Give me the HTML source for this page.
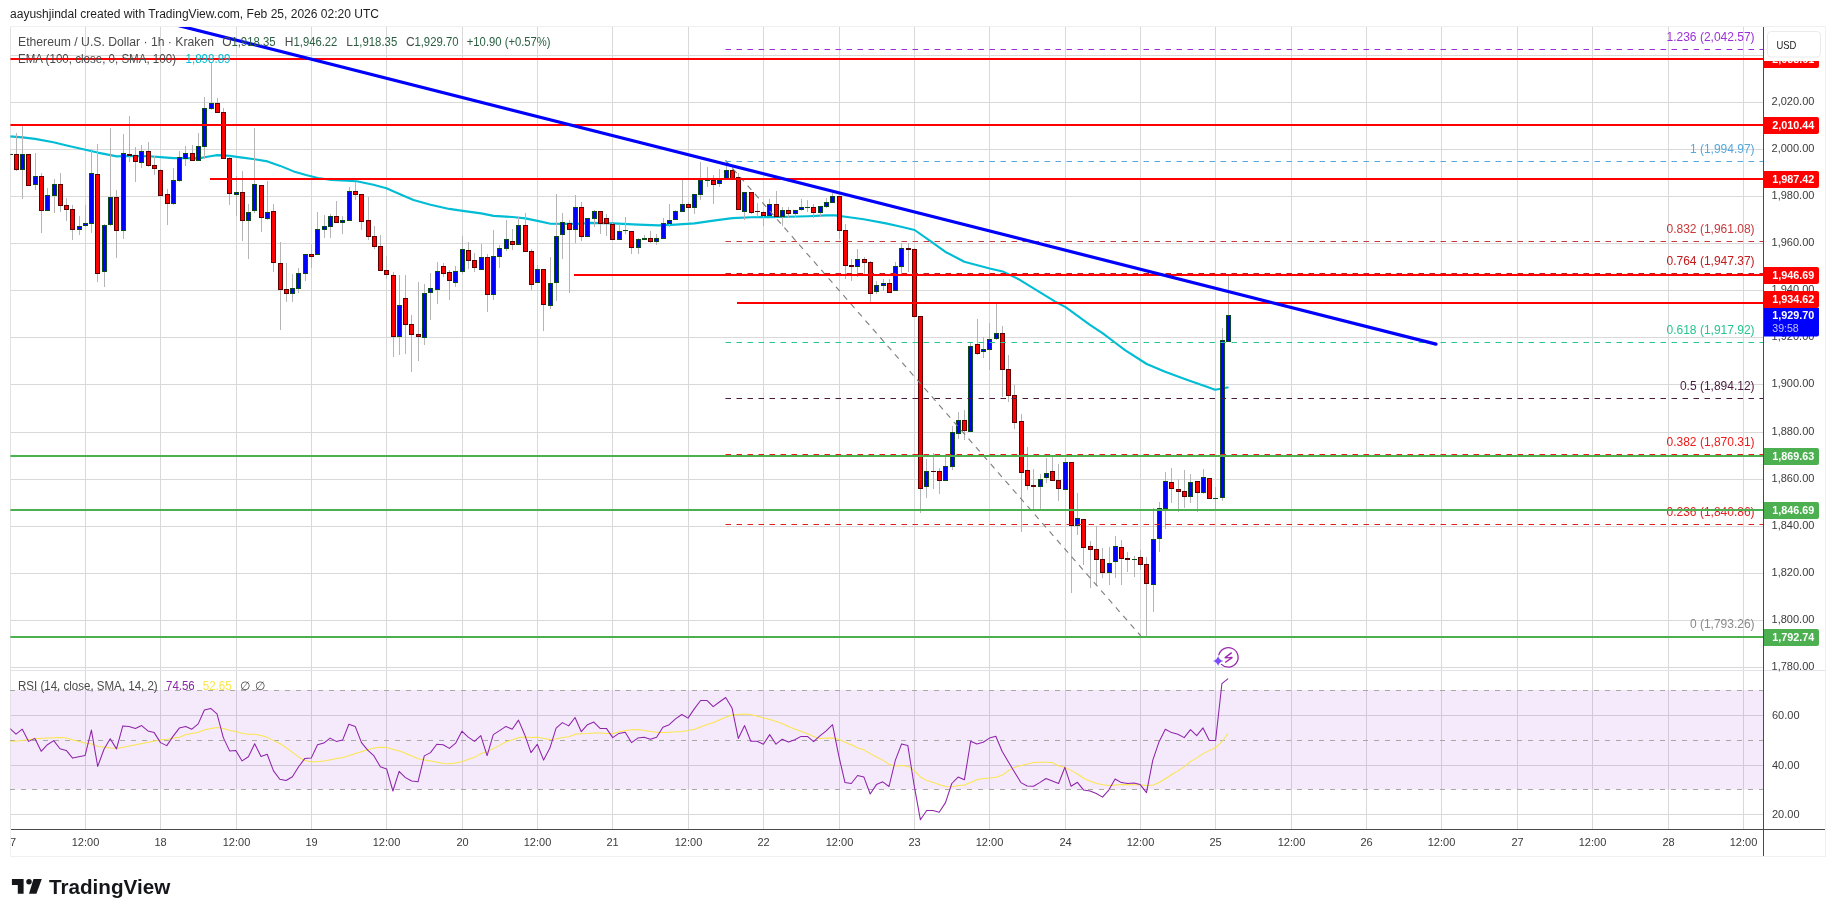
<!DOCTYPE html>
<html><head><meta charset="utf-8"><title>ETHUSD chart</title>
<style>html,body{margin:0;padding:0;background:#fff}svg{display:block;will-change:transform}</style></head>
<body>
<svg width="1835" height="917" viewBox="0 0 1835 917" shape-rendering="auto">
<rect width="1835" height="917" fill="#fff"/>
<rect x="10.5" y="26.5" width="1815" height="830" fill="#fff" stroke="#f0f0f0" stroke-width="1"/>
<defs><clipPath id="main"><rect x="10.4" y="27" width="1753.1" height="643"/></clipPath><clipPath id="rsi"><rect x="10.4" y="671" width="1753.1" height="158"/></clipPath></defs>
<path d="M10.5 27V829" stroke="#e2e2e2" stroke-width="1" shape-rendering="crispEdges"/>
<path d="M85.5 27V829.5M160.5 27V829.5M236.5 27V829.5M311.5 27V829.5M386.5 27V829.5M462.5 27V829.5M537.5 27V829.5M612.5 27V829.5M688.5 27V829.5M763.5 27V829.5M839.5 27V829.5M914.5 27V829.5M989.5 27V829.5M1065.5 27V829.5M1140.5 27V829.5M1215.5 27V829.5M1291.5 27V829.5M1366.5 27V829.5M1441.5 27V829.5M1517.5 27V829.5M1592.5 27V829.5M1668.5 27V829.5M1743.5 27V829.5M11 55.5H1763.5M11 102.5H1763.5M11 149.5H1763.5M11 196.5H1763.5M11 243.5H1763.5M11 290.5H1763.5M11 337.5H1763.5M11 384.5H1763.5M11 432.5H1763.5M11 479.5H1763.5M11 526.5H1763.5M11 573.5H1763.5M11 620.5H1763.5M11 667.5H1763.5M11 715.5H1763.5M11 765.5H1763.5M11 814.5H1763.5" stroke="#d9d9d9" stroke-width="1" fill="none" shape-rendering="crispEdges"/>
<path d="M11 670.5H1825" stroke="#e0e3eb" stroke-width="1" shape-rendering="crispEdges"/>
<rect x="11" y="690" width="1752.5" height="99.5" fill="#a43ce6" fill-opacity="0.115"/>
<path d="M10 690.5H1763.5" stroke="#a9a9a4" stroke-width="1" stroke-dasharray="5 6"/>
<path d="M10 740.5H1763.5" stroke="#a9a9a4" stroke-width="1" stroke-dasharray="5 6"/>
<path d="M10 789.5H1763.5" stroke="#a9a9a4" stroke-width="1" stroke-dasharray="5 6"/>
<g clip-path="url(#main)">
<polyline points="10.0,136.4 22.5,137.4 35.0,138.9 53.4,142.2 66.7,145.4 85.4,149.7 97.6,152.6 116.8,156.4 129.5,155.9 148.5,156.2 160.5,157.1 173.5,158.1 185.6,158.1 198.6,158.4 210.2,156.2 217.4,155.1 229.8,155.9 242.4,157.6 254.6,159.3 267.5,161.4 280.3,165.9 293.7,171.4 306.0,175.1 318.0,178.0 331.7,180.0 356.7,181.3 373.4,184.7 386.4,188.3 400.1,194.2 413.5,200.0 430.5,204.7 449.3,208.9 462.7,210.9 481.2,213.4 493.6,215.9 512.4,217.0 525.4,218.4 537.6,220.9 550.5,223.7 562.5,223.9 581.3,223.7 590.0,222.9 612.9,223.4 638.4,224.6 658.4,225.4 675.4,224.6 694.5,223.4 713.5,220.6 732.5,218.1 751.4,217.2 769.6,217.1 788.6,216.7 807.6,216.2 826.5,215.4 835.3,215.4 845.5,216.7 863.7,219.2 886.0,223.4 900.0,226.5 914.6,230.0 930.1,240.8 945.1,251.7 964.3,261.7 989.7,268.4 1002.7,271.4 1018.5,279.2 1033.6,288.4 1055.2,301.7 1065.6,307.1 1090.3,325.1 1102.5,333.1 1113.6,341.5 1125.0,350.1 1146.7,364.0 1165.1,371.8 1186.8,379.8 1206.8,386.8 1215.1,389.8 1222.5,388.5 1228.5,387.2" fill="none" stroke="#00bcd4" stroke-width="2.1" stroke-linejoin="round"/>
<path d="M10.5 154V155M16.5 133V171M22.5 126V199M28.5 154V186M35.5 153V190M41.5 173V233M47.5 188V211M54.5 179V213M60.5 173V212M66.5 198V221M72.5 205V240M79.5 216V235M85.5 205V227M91.5 149V233M97.5 144V282M104.5 224V287M110.5 128V226M116.5 190V258M123.5 134V239M129.5 116V162M135.5 147V182M141.5 145V168M148.5 142V167M154.5 156V175M160.5 169V196M167.5 189V225M173.5 168V205M179.5 151V182M185.5 146V166M192.5 145V161M198.5 133V161M204.5 97V159M211.5 62V110M217.5 98V113M223.5 108V159M229.5 156V205M236.5 176V216M242.5 171V241M248.5 204V259M254.5 128V213M261.5 185V232M267.5 181V220M273.5 204V272M280.5 242V330M286.5 263V302M292.5 274V302M298.5 268V293M305.5 254V281M311.5 244V268M317.5 212V255M324.5 215V238M330.5 214V238M336.5 201V223M342.5 216V234M349.5 187V221M355.5 182V200M361.5 194V230M368.5 197V240M374.5 226V249M380.5 235V271M386.5 256V279M393.5 272V357M399.5 275V355M405.5 275V354M411.5 315V372M418.5 282V361M424.5 284V345M430.5 273V320M437.5 262V304M443.5 263V277M449.5 270V300M455.5 266V287M462.5 236V274M468.5 242V269M474.5 253V272M481.5 244V270M487.5 254V312M493.5 230V300M499.5 245V268M506.5 220V251M512.5 229V250M518.5 217V245M525.5 213V252M531.5 249V290M537.5 265V283M543.5 269V331M550.5 257V309M556.5 194V301M562.5 213V259M569.5 220V293M575.5 195V243M581.5 202V241M587.5 218V237M594.5 210V227M600.5 211V234M606.5 214V236M612.5 223V240M619.5 224V240M625.5 217V234M631.5 231V254M638.5 238V254M644.5 235V240M650.5 231V243M656.5 234V245M663.5 218V239M669.5 204V227M675.5 210V220M682.5 180V212M688.5 202V221M694.5 194V214M700.5 162V200M707.5 167V187M713.5 175V204M719.5 169V187M726.5 161V179M732.5 167V179M738.5 173V210M744.5 192V220M751.5 192V214M757.5 203V217M763.5 211V226M769.5 199V216M776.5 191V217M782.5 207V226M788.5 207V218M795.5 210V217M801.5 199V211M807.5 200V212M813.5 204V218M820.5 206V217M826.5 198V208M832.5 193V203M839.5 196V239M845.5 224V279M851.5 259V281M857.5 249V277M864.5 257V274M870.5 261V302M876.5 281V294M883.5 279V291M889.5 279V293M895.5 262V291M901.5 243V273M908.5 243V272M914.5 248V317M920.5 316V513M926.5 459V498M933.5 453V489M939.5 468V494M945.5 457V481M952.5 426V470M958.5 412V439M964.5 410V440M970.5 342V432M977.5 319V355M983.5 337V358M989.5 323V370M996.5 304V340M1002.5 326V397M1008.5 355V402M1014.5 385V429M1021.5 414V532M1027.5 447V490M1033.5 469V509M1040.5 474V509M1046.5 458V483M1052.5 457V481M1058.5 464V501M1065.5 458V490M1071.5 462V593M1077.5 493V535M1083.5 519V565M1090.5 541V588M1096.5 526V586M1102.5 548V578M1109.5 547V585M1115.5 536V578M1121.5 540V585M1127.5 552V572M1134.5 556V577M1140.5 550V570M1146.5 557V637M1153.5 508V612M1159.5 502V552M1165.5 472V529M1171.5 468V503M1178.5 479V512M1184.5 470V508M1190.5 474V503M1197.5 481V512M1203.5 469V494M1209.5 478V499M1215.5 487V510M1222.5 328V501M1228.5 276V342" stroke="#b5b5b5" stroke-width="1" fill="none" shape-rendering="crispEdges"/>
<g shape-rendering="crispEdges"><rect x="8" y="154" width="5" height="1" fill="#0a4d1a"/><rect x="14.5" y="154.5" width="4" height="15" fill="#ff0000" stroke="#5a0000" stroke-width="1"/><rect x="20.5" y="154.5" width="4" height="15" fill="#0000ff" stroke="#0a4d1a" stroke-width="1"/><rect x="26.5" y="154.5" width="4" height="31" fill="#ff0000" stroke="#5a0000" stroke-width="1"/><rect x="33.5" y="176.5" width="4" height="8" fill="#0000ff" stroke="#0a4d1a" stroke-width="1"/><rect x="39.5" y="176.5" width="4" height="34" fill="#ff0000" stroke="#5a0000" stroke-width="1"/><rect x="45.5" y="195.5" width="4" height="15" fill="#0000ff" stroke="#0a4d1a" stroke-width="1"/><rect x="52.5" y="184.5" width="4" height="11" fill="#0000ff" stroke="#0a4d1a" stroke-width="1"/><rect x="58.5" y="184.5" width="4" height="21" fill="#ff0000" stroke="#5a0000" stroke-width="1"/><rect x="64.5" y="205.5" width="4" height="4" fill="#ff0000" stroke="#5a0000" stroke-width="1"/><rect x="70.5" y="209.5" width="4" height="20" fill="#ff0000" stroke="#5a0000" stroke-width="1"/><rect x="77.5" y="226.5" width="4" height="3" fill="#0000ff" stroke="#0a4d1a" stroke-width="1"/><rect x="83.5" y="223.5" width="4" height="2" fill="#0000ff" stroke="#0a4d1a" stroke-width="1"/><rect x="89.5" y="173.5" width="4" height="50" fill="#0000ff" stroke="#0a4d1a" stroke-width="1"/><rect x="95.5" y="174.5" width="4" height="99" fill="#ff0000" stroke="#5a0000" stroke-width="1"/><rect x="102.5" y="225.5" width="4" height="46" fill="#0000ff" stroke="#0a4d1a" stroke-width="1"/><rect x="108.5" y="197.5" width="4" height="27" fill="#0000ff" stroke="#0a4d1a" stroke-width="1"/><rect x="114.5" y="197.5" width="4" height="33" fill="#ff0000" stroke="#5a0000" stroke-width="1"/><rect x="121.5" y="153.5" width="4" height="77" fill="#0000ff" stroke="#0a4d1a" stroke-width="1"/><rect x="127" y="154" width="5" height="2" fill="#5a0000"/><rect x="133.5" y="155.5" width="4" height="6" fill="#ff0000" stroke="#5a0000" stroke-width="1"/><rect x="139.5" y="151.5" width="4" height="11" fill="#0000ff" stroke="#0a4d1a" stroke-width="1"/><rect x="146.5" y="151.5" width="4" height="14" fill="#ff0000" stroke="#5a0000" stroke-width="1"/><rect x="152.5" y="165.5" width="4" height="3" fill="#ff0000" stroke="#5a0000" stroke-width="1"/><rect x="158.5" y="170.5" width="4" height="25" fill="#ff0000" stroke="#5a0000" stroke-width="1"/><rect x="165.5" y="194.5" width="4" height="9" fill="#ff0000" stroke="#5a0000" stroke-width="1"/><rect x="171.5" y="180.5" width="4" height="23" fill="#0000ff" stroke="#0a4d1a" stroke-width="1"/><rect x="177.5" y="157.5" width="4" height="23" fill="#0000ff" stroke="#0a4d1a" stroke-width="1"/><rect x="183.5" y="153.5" width="4" height="5" fill="#0000ff" stroke="#0a4d1a" stroke-width="1"/><rect x="190.5" y="153.5" width="4" height="7" fill="#ff0000" stroke="#5a0000" stroke-width="1"/><rect x="196.5" y="146.5" width="4" height="14" fill="#0000ff" stroke="#0a4d1a" stroke-width="1"/><rect x="202.5" y="108.5" width="4" height="38" fill="#0000ff" stroke="#0a4d1a" stroke-width="1"/><rect x="209.5" y="103.5" width="4" height="5" fill="#0000ff" stroke="#0a4d1a" stroke-width="1"/><rect x="215.5" y="103.5" width="4" height="9" fill="#ff0000" stroke="#5a0000" stroke-width="1"/><rect x="221.5" y="112.5" width="4" height="46" fill="#ff0000" stroke="#5a0000" stroke-width="1"/><rect x="227.5" y="158.5" width="4" height="35" fill="#ff0000" stroke="#5a0000" stroke-width="1"/><rect x="234.5" y="192.5" width="4" height="2" fill="#0000ff" stroke="#0a4d1a" stroke-width="1"/><rect x="240.5" y="192.5" width="4" height="28" fill="#ff0000" stroke="#5a0000" stroke-width="1"/><rect x="246.5" y="212.5" width="4" height="8" fill="#0000ff" stroke="#0a4d1a" stroke-width="1"/><rect x="252.5" y="184.5" width="4" height="26" fill="#0000ff" stroke="#0a4d1a" stroke-width="1"/><rect x="259.5" y="185.5" width="4" height="32" fill="#ff0000" stroke="#5a0000" stroke-width="1"/><rect x="265.5" y="212.5" width="4" height="6" fill="#0000ff" stroke="#0a4d1a" stroke-width="1"/><rect x="271.5" y="211.5" width="4" height="51" fill="#ff0000" stroke="#5a0000" stroke-width="1"/><rect x="278.5" y="263.5" width="4" height="26" fill="#ff0000" stroke="#5a0000" stroke-width="1"/><rect x="284.5" y="289.5" width="4" height="4" fill="#ff0000" stroke="#5a0000" stroke-width="1"/><rect x="290.5" y="288.5" width="4" height="5" fill="#0000ff" stroke="#0a4d1a" stroke-width="1"/><rect x="296.5" y="273.5" width="4" height="15" fill="#0000ff" stroke="#0a4d1a" stroke-width="1"/><rect x="303.5" y="254.5" width="4" height="19" fill="#0000ff" stroke="#0a4d1a" stroke-width="1"/><rect x="309.5" y="254.5" width="4" height="2" fill="#ff0000" stroke="#5a0000" stroke-width="1"/><rect x="315.5" y="229.5" width="4" height="25" fill="#0000ff" stroke="#0a4d1a" stroke-width="1"/><rect x="322.5" y="226.5" width="4" height="3" fill="#0000ff" stroke="#0a4d1a" stroke-width="1"/><rect x="328.5" y="216.5" width="4" height="10" fill="#0000ff" stroke="#0a4d1a" stroke-width="1"/><rect x="334.5" y="216.5" width="4" height="6" fill="#ff0000" stroke="#5a0000" stroke-width="1"/><rect x="340.5" y="220.5" width="4" height="2" fill="#0000ff" stroke="#0a4d1a" stroke-width="1"/><rect x="347.5" y="191.5" width="4" height="29" fill="#0000ff" stroke="#0a4d1a" stroke-width="1"/><rect x="353.5" y="191.5" width="4" height="3" fill="#ff0000" stroke="#5a0000" stroke-width="1"/><rect x="359.5" y="194.5" width="4" height="27" fill="#ff0000" stroke="#5a0000" stroke-width="1"/><rect x="366.5" y="220.5" width="4" height="16" fill="#ff0000" stroke="#5a0000" stroke-width="1"/><rect x="372.5" y="236.5" width="4" height="10" fill="#ff0000" stroke="#5a0000" stroke-width="1"/><rect x="378.5" y="246.5" width="4" height="24" fill="#ff0000" stroke="#5a0000" stroke-width="1"/><rect x="384.5" y="270.5" width="4" height="4" fill="#ff0000" stroke="#5a0000" stroke-width="1"/><rect x="391.5" y="275.5" width="4" height="61" fill="#ff0000" stroke="#5a0000" stroke-width="1"/><rect x="397.5" y="305.5" width="4" height="31" fill="#0000ff" stroke="#0a4d1a" stroke-width="1"/><rect x="403.5" y="298.5" width="4" height="26" fill="#ff0000" stroke="#5a0000" stroke-width="1"/><rect x="409.5" y="324.5" width="4" height="10" fill="#ff0000" stroke="#5a0000" stroke-width="1"/><rect x="416.5" y="334.5" width="4" height="2" fill="#ff0000" stroke="#5a0000" stroke-width="1"/><rect x="422.5" y="293.5" width="4" height="44" fill="#0000ff" stroke="#0a4d1a" stroke-width="1"/><rect x="428.5" y="288.5" width="4" height="4" fill="#0000ff" stroke="#0a4d1a" stroke-width="1"/><rect x="435.5" y="271.5" width="4" height="18" fill="#0000ff" stroke="#0a4d1a" stroke-width="1"/><rect x="441.5" y="266.5" width="4" height="7" fill="#ff0000" stroke="#5a0000" stroke-width="1"/><rect x="447.5" y="272.5" width="4" height="8" fill="#ff0000" stroke="#5a0000" stroke-width="1"/><rect x="453.5" y="271.5" width="4" height="11" fill="#0000ff" stroke="#0a4d1a" stroke-width="1"/><rect x="460.5" y="249.5" width="4" height="22" fill="#0000ff" stroke="#0a4d1a" stroke-width="1"/><rect x="466.5" y="250.5" width="4" height="10" fill="#ff0000" stroke="#5a0000" stroke-width="1"/><rect x="472.5" y="260.5" width="4" height="7" fill="#ff0000" stroke="#5a0000" stroke-width="1"/><rect x="479.5" y="257.5" width="4" height="12" fill="#0000ff" stroke="#0a4d1a" stroke-width="1"/><rect x="485.5" y="257.5" width="4" height="37" fill="#ff0000" stroke="#5a0000" stroke-width="1"/><rect x="491.5" y="256.5" width="4" height="38" fill="#0000ff" stroke="#0a4d1a" stroke-width="1"/><rect x="497.5" y="248.5" width="4" height="8" fill="#0000ff" stroke="#0a4d1a" stroke-width="1"/><rect x="504.5" y="239.5" width="4" height="9" fill="#0000ff" stroke="#0a4d1a" stroke-width="1"/><rect x="510.5" y="241.5" width="4" height="3" fill="#ff0000" stroke="#5a0000" stroke-width="1"/><rect x="516.5" y="225.5" width="4" height="19" fill="#0000ff" stroke="#0a4d1a" stroke-width="1"/><rect x="523.5" y="225.5" width="4" height="26" fill="#ff0000" stroke="#5a0000" stroke-width="1"/><rect x="529.5" y="251.5" width="4" height="33" fill="#ff0000" stroke="#5a0000" stroke-width="1"/><rect x="535.5" y="269.5" width="4" height="13" fill="#0000ff" stroke="#0a4d1a" stroke-width="1"/><rect x="541.5" y="269.5" width="4" height="35" fill="#ff0000" stroke="#5a0000" stroke-width="1"/><rect x="548.5" y="283.5" width="4" height="22" fill="#0000ff" stroke="#0a4d1a" stroke-width="1"/><rect x="554.5" y="236.5" width="4" height="46" fill="#0000ff" stroke="#0a4d1a" stroke-width="1"/><rect x="560.5" y="222.5" width="4" height="12" fill="#0000ff" stroke="#0a4d1a" stroke-width="1"/><rect x="567.5" y="223.5" width="4" height="6" fill="#ff0000" stroke="#5a0000" stroke-width="1"/><rect x="573.5" y="207.5" width="4" height="22" fill="#0000ff" stroke="#0a4d1a" stroke-width="1"/><rect x="579.5" y="207.5" width="4" height="29" fill="#ff0000" stroke="#5a0000" stroke-width="1"/><rect x="585.5" y="218.5" width="4" height="18" fill="#0000ff" stroke="#0a4d1a" stroke-width="1"/><rect x="592.5" y="211.5" width="4" height="7" fill="#0000ff" stroke="#0a4d1a" stroke-width="1"/><rect x="598.5" y="211.5" width="4" height="12" fill="#ff0000" stroke="#5a0000" stroke-width="1"/><rect x="604.5" y="218.5" width="4" height="5" fill="#ff0000" stroke="#5a0000" stroke-width="1"/><rect x="610.5" y="224.5" width="4" height="15" fill="#ff0000" stroke="#5a0000" stroke-width="1"/><rect x="617.5" y="231.5" width="4" height="8" fill="#0000ff" stroke="#0a4d1a" stroke-width="1"/><rect x="623" y="230" width="5" height="1" fill="#0a4d1a"/><rect x="629.5" y="231.5" width="4" height="16" fill="#ff0000" stroke="#5a0000" stroke-width="1"/><rect x="636.5" y="239.5" width="4" height="8" fill="#0000ff" stroke="#0a4d1a" stroke-width="1"/><rect x="642" y="238" width="5" height="2" fill="#0a4d1a"/><rect x="648.5" y="238.5" width="4" height="3" fill="#ff0000" stroke="#5a0000" stroke-width="1"/><rect x="654.5" y="238.5" width="4" height="3" fill="#0000ff" stroke="#0a4d1a" stroke-width="1"/><rect x="661.5" y="223.5" width="4" height="15" fill="#0000ff" stroke="#0a4d1a" stroke-width="1"/><rect x="667.5" y="220.5" width="4" height="3" fill="#0000ff" stroke="#0a4d1a" stroke-width="1"/><rect x="673.5" y="211.5" width="4" height="8" fill="#0000ff" stroke="#0a4d1a" stroke-width="1"/><rect x="680.5" y="204.5" width="4" height="7" fill="#0000ff" stroke="#0a4d1a" stroke-width="1"/><rect x="686.5" y="204.5" width="4" height="3" fill="#ff0000" stroke="#5a0000" stroke-width="1"/><rect x="692.5" y="194.5" width="4" height="13" fill="#0000ff" stroke="#0a4d1a" stroke-width="1"/><rect x="698.5" y="180.5" width="4" height="14" fill="#0000ff" stroke="#0a4d1a" stroke-width="1"/><rect x="705" y="180" width="5" height="1" fill="#0a4d1a"/><rect x="711.5" y="180.5" width="4" height="4" fill="#ff0000" stroke="#5a0000" stroke-width="1"/><rect x="717.5" y="180.5" width="4" height="3" fill="#0000ff" stroke="#0a4d1a" stroke-width="1"/><rect x="724.5" y="170.5" width="4" height="8" fill="#0000ff" stroke="#0a4d1a" stroke-width="1"/><rect x="730.5" y="170.5" width="4" height="8" fill="#ff0000" stroke="#5a0000" stroke-width="1"/><rect x="736.5" y="177.5" width="4" height="32" fill="#ff0000" stroke="#5a0000" stroke-width="1"/><rect x="742.5" y="192.5" width="4" height="19" fill="#0000ff" stroke="#0a4d1a" stroke-width="1"/><rect x="749.5" y="192.5" width="4" height="20" fill="#ff0000" stroke="#5a0000" stroke-width="1"/><rect x="755" y="211" width="5" height="1" fill="#5a0000"/><rect x="761.5" y="212.5" width="4" height="3" fill="#ff0000" stroke="#5a0000" stroke-width="1"/><rect x="767.5" y="204.5" width="4" height="11" fill="#0000ff" stroke="#0a4d1a" stroke-width="1"/><rect x="774.5" y="204.5" width="4" height="12" fill="#ff0000" stroke="#5a0000" stroke-width="1"/><rect x="780.5" y="210.5" width="4" height="6" fill="#0000ff" stroke="#0a4d1a" stroke-width="1"/><rect x="786.5" y="210.5" width="4" height="3" fill="#ff0000" stroke="#5a0000" stroke-width="1"/><rect x="793.5" y="210.5" width="4" height="3" fill="#0000ff" stroke="#0a4d1a" stroke-width="1"/><rect x="799.5" y="207.5" width="4" height="2" fill="#0000ff" stroke="#0a4d1a" stroke-width="1"/><rect x="805" y="207" width="5" height="1" fill="#0a4d1a"/><rect x="811.5" y="207.5" width="4" height="5" fill="#ff0000" stroke="#5a0000" stroke-width="1"/><rect x="818.5" y="206.5" width="4" height="6" fill="#0000ff" stroke="#0a4d1a" stroke-width="1"/><rect x="824.5" y="202.5" width="4" height="4" fill="#0000ff" stroke="#0a4d1a" stroke-width="1"/><rect x="830.5" y="196.5" width="4" height="6" fill="#0000ff" stroke="#0a4d1a" stroke-width="1"/><rect x="837.5" y="196.5" width="4" height="34" fill="#ff0000" stroke="#5a0000" stroke-width="1"/><rect x="843.5" y="230.5" width="4" height="35" fill="#ff0000" stroke="#5a0000" stroke-width="1"/><rect x="849" y="265" width="5" height="2" fill="#5a0000"/><rect x="855.5" y="259.5" width="4" height="7" fill="#0000ff" stroke="#0a4d1a" stroke-width="1"/><rect x="862.5" y="259.5" width="4" height="3" fill="#ff0000" stroke="#5a0000" stroke-width="1"/><rect x="868.5" y="262.5" width="4" height="31" fill="#ff0000" stroke="#5a0000" stroke-width="1"/><rect x="874.5" y="285.5" width="4" height="6" fill="#0000ff" stroke="#0a4d1a" stroke-width="1"/><rect x="881.5" y="283.5" width="4" height="2" fill="#0000ff" stroke="#0a4d1a" stroke-width="1"/><rect x="887.5" y="283.5" width="4" height="9" fill="#ff0000" stroke="#5a0000" stroke-width="1"/><rect x="893.5" y="266.5" width="4" height="24" fill="#0000ff" stroke="#0a4d1a" stroke-width="1"/><rect x="899.5" y="248.5" width="4" height="18" fill="#0000ff" stroke="#0a4d1a" stroke-width="1"/><rect x="906" y="248" width="5" height="2" fill="#5a0000"/><rect x="912.5" y="249.5" width="4" height="67" fill="#ff0000" stroke="#5a0000" stroke-width="1"/><rect x="918.5" y="316.5" width="4" height="172" fill="#ff0000" stroke="#5a0000" stroke-width="1"/><rect x="924.5" y="471.5" width="4" height="15" fill="#0000ff" stroke="#0a4d1a" stroke-width="1"/><rect x="931" y="471" width="5" height="1" fill="#5a0000"/><rect x="937.5" y="471.5" width="4" height="9" fill="#ff0000" stroke="#5a0000" stroke-width="1"/><rect x="943.5" y="466.5" width="4" height="14" fill="#0000ff" stroke="#0a4d1a" stroke-width="1"/><rect x="950.5" y="432.5" width="4" height="34" fill="#0000ff" stroke="#0a4d1a" stroke-width="1"/><rect x="956.5" y="420.5" width="4" height="13" fill="#0000ff" stroke="#0a4d1a" stroke-width="1"/><rect x="962.5" y="420.5" width="4" height="10" fill="#ff0000" stroke="#5a0000" stroke-width="1"/><rect x="968.5" y="346.5" width="4" height="85" fill="#0000ff" stroke="#0a4d1a" stroke-width="1"/><rect x="975.5" y="344.5" width="4" height="9" fill="#ff0000" stroke="#5a0000" stroke-width="1"/><rect x="981.5" y="349.5" width="4" height="2" fill="#0000ff" stroke="#0a4d1a" stroke-width="1"/><rect x="987.5" y="339.5" width="4" height="10" fill="#0000ff" stroke="#0a4d1a" stroke-width="1"/><rect x="994.5" y="333.5" width="4" height="5" fill="#0000ff" stroke="#0a4d1a" stroke-width="1"/><rect x="1000.5" y="333.5" width="4" height="36" fill="#ff0000" stroke="#5a0000" stroke-width="1"/><rect x="1006.5" y="369.5" width="4" height="26" fill="#ff0000" stroke="#5a0000" stroke-width="1"/><rect x="1012.5" y="395.5" width="4" height="27" fill="#ff0000" stroke="#5a0000" stroke-width="1"/><rect x="1019.5" y="421.5" width="4" height="51" fill="#ff0000" stroke="#5a0000" stroke-width="1"/><rect x="1025.5" y="470.5" width="4" height="15" fill="#ff0000" stroke="#5a0000" stroke-width="1"/><rect x="1031" y="485" width="5" height="2" fill="#5a0000"/><rect x="1038.5" y="479.5" width="4" height="7" fill="#0000ff" stroke="#0a4d1a" stroke-width="1"/><rect x="1044.5" y="473.5" width="4" height="4" fill="#0000ff" stroke="#0a4d1a" stroke-width="1"/><rect x="1050.5" y="471.5" width="4" height="9" fill="#ff0000" stroke="#5a0000" stroke-width="1"/><rect x="1056.5" y="480.5" width="4" height="8" fill="#ff0000" stroke="#5a0000" stroke-width="1"/><rect x="1063.5" y="462.5" width="4" height="27" fill="#0000ff" stroke="#0a4d1a" stroke-width="1"/><rect x="1069.5" y="462.5" width="4" height="63" fill="#ff0000" stroke="#5a0000" stroke-width="1"/><rect x="1075.5" y="518.5" width="4" height="7" fill="#0000ff" stroke="#0a4d1a" stroke-width="1"/><rect x="1081.5" y="519.5" width="4" height="28" fill="#ff0000" stroke="#5a0000" stroke-width="1"/><rect x="1088.5" y="546.5" width="4" height="3" fill="#ff0000" stroke="#5a0000" stroke-width="1"/><rect x="1094.5" y="549.5" width="4" height="10" fill="#ff0000" stroke="#5a0000" stroke-width="1"/><rect x="1100.5" y="559.5" width="4" height="13" fill="#ff0000" stroke="#5a0000" stroke-width="1"/><rect x="1107.5" y="563.5" width="4" height="9" fill="#0000ff" stroke="#0a4d1a" stroke-width="1"/><rect x="1113.5" y="546.5" width="4" height="15" fill="#0000ff" stroke="#0a4d1a" stroke-width="1"/><rect x="1119.5" y="547.5" width="4" height="11" fill="#ff0000" stroke="#5a0000" stroke-width="1"/><rect x="1125" y="558" width="5" height="2" fill="#5a0000"/><rect x="1132" y="559" width="5" height="1" fill="#0a4d1a"/><rect x="1138.5" y="557.5" width="4" height="7" fill="#ff0000" stroke="#5a0000" stroke-width="1"/><rect x="1144.5" y="564.5" width="4" height="19" fill="#ff0000" stroke="#5a0000" stroke-width="1"/><rect x="1151.5" y="539.5" width="4" height="45" fill="#0000ff" stroke="#0a4d1a" stroke-width="1"/><rect x="1157.5" y="508.5" width="4" height="30" fill="#0000ff" stroke="#0a4d1a" stroke-width="1"/><rect x="1163.5" y="481.5" width="4" height="27" fill="#0000ff" stroke="#0a4d1a" stroke-width="1"/><rect x="1169.5" y="482.5" width="4" height="6" fill="#ff0000" stroke="#5a0000" stroke-width="1"/><rect x="1176.5" y="489.5" width="4" height="2" fill="#ff0000" stroke="#5a0000" stroke-width="1"/><rect x="1182.5" y="491.5" width="4" height="5" fill="#ff0000" stroke="#5a0000" stroke-width="1"/><rect x="1188.5" y="482.5" width="4" height="14" fill="#0000ff" stroke="#0a4d1a" stroke-width="1"/><rect x="1195.5" y="481.5" width="4" height="11" fill="#ff0000" stroke="#5a0000" stroke-width="1"/><rect x="1201.5" y="477.5" width="4" height="15" fill="#0000ff" stroke="#0a4d1a" stroke-width="1"/><rect x="1207.5" y="478.5" width="4" height="20" fill="#ff0000" stroke="#5a0000" stroke-width="1"/><rect x="1213" y="498" width="5" height="1" fill="#0a4d1a"/><rect x="1220.5" y="340.5" width="4" height="157" fill="#0000ff" stroke="#0a4d1a" stroke-width="1"/><rect x="1226.5" y="315.5" width="4" height="26" fill="#0000ff" stroke="#0a4d1a" stroke-width="1"/></g>
<path d="M725.5 160.2L1140.8 636" stroke="#808080" stroke-width="1.15" stroke-dasharray="5.8 5.4" fill="none"/>
<path d="M725.5 49.5H1763.5" stroke="#9b30d9" stroke-width="1" stroke-dasharray="5.5 5.5"/>
<path d="M725.5 161.5H1763.5" stroke="#55a8dd" stroke-width="1" stroke-dasharray="5.5 5.5"/>
<path d="M725.5 241.5H1763.5" stroke="#c8393b" stroke-width="1" stroke-dasharray="5.5 5.5"/>
<path d="M725.5 273.5H1763.5" stroke="#c21a1a" stroke-width="1" stroke-dasharray="5.5 5.5"/>
<path d="M725.5 342.5H1763.5" stroke="#26c68f" stroke-width="1" stroke-dasharray="5.5 5.5"/>
<path d="M725.5 398.5H1763.5" stroke="#4a1a3f" stroke-width="1" stroke-dasharray="5.5 5.5"/>
<path d="M725.5 454.5H1763.5" stroke="#f01818" stroke-width="1" stroke-dasharray="5.5 5.5"/>
<path d="M725.5 524.5H1763.5" stroke="#e02020" stroke-width="1" stroke-dasharray="5.5 5.5"/>
<path d="M725.5 636.5H1763.5" stroke="#8a8a8a" stroke-width="1" stroke-dasharray="5.5 5.5"/>
<text x="1754.6" y="40.8" text-anchor="end" font-family="Liberation Sans, Arial, sans-serif" font-size="12" fill="#9b30d9">1.236 (2,042.57)</text>
<text x="1754.6" y="152.8" text-anchor="end" font-family="Liberation Sans, Arial, sans-serif" font-size="12" fill="#55a8dd">1 (1,994.97)</text>
<text x="1754.6" y="232.8" text-anchor="end" font-family="Liberation Sans, Arial, sans-serif" font-size="12" fill="#c8393b">0.832 (1,961.08)</text>
<text x="1754.6" y="264.8" text-anchor="end" font-family="Liberation Sans, Arial, sans-serif" font-size="12" fill="#c21a1a">0.764 (1,947.37)</text>
<text x="1754.6" y="333.8" text-anchor="end" font-family="Liberation Sans, Arial, sans-serif" font-size="12" fill="#26c68f">0.618 (1,917.92)</text>
<text x="1754.6" y="389.8" text-anchor="end" font-family="Liberation Sans, Arial, sans-serif" font-size="12" fill="#4a1a3f">0.5 (1,894.12)</text>
<text x="1754.6" y="445.8" text-anchor="end" font-family="Liberation Sans, Arial, sans-serif" font-size="12" fill="#f01818">0.382 (1,870.31)</text>
<text x="1754.6" y="515.8" text-anchor="end" font-family="Liberation Sans, Arial, sans-serif" font-size="12" fill="#e02020">0.236 (1,840.86)</text>
<text x="1754.6" y="627.8" text-anchor="end" font-family="Liberation Sans, Arial, sans-serif" font-size="12" fill="#8a8a8a">0 (1,793.26)</text>
<path d="M10 59H1763.5" stroke="#ff0000" stroke-width="2" shape-rendering="crispEdges"/>
<path d="M10 125H1763.5" stroke="#ff0000" stroke-width="2" shape-rendering="crispEdges"/>
<path d="M210 179H1763.5" stroke="#ff0000" stroke-width="2" shape-rendering="crispEdges"/>
<path d="M574 275H1763.5" stroke="#ff0000" stroke-width="2" shape-rendering="crispEdges"/>
<path d="M737 303H1763.5" stroke="#ff0000" stroke-width="2" shape-rendering="crispEdges"/>
<path d="M10 456H1763.5" stroke="#4caf50" stroke-width="2" shape-rendering="crispEdges"/>
<path d="M10 510H1763.5" stroke="#4caf50" stroke-width="2" shape-rendering="crispEdges"/>
<path d="M10 637H1763.5" stroke="#4caf50" stroke-width="2" shape-rendering="crispEdges"/>
<path d="M100 5.7L1436 344.1" stroke="#0000ff" stroke-width="3.2" stroke-linecap="round"/>
</g>
<g clip-path="url(#rsi)">
<polyline points="10.2,741.4 22.7,740.6 35.2,738.7 47.9,737.9 60.4,737.6 66.7,738.1 72.9,740.1 85.4,743.1 91.8,743.9 98.1,746.4 110.6,747.9 116.8,748.4 123.1,747.3 135.7,744.7 148.3,742.2 160.9,739.7 167.2,739.2 173.4,738.1 179.7,737.2 185.9,734.6 192.2,733.4 198.6,732.2 204.7,729.7 211.1,728.4 217.4,727.6 223.6,728.4 229.9,730.4 236.1,731.4 242.4,733.4 248.8,734.2 255.0,734.2 261.3,735.4 267.6,737.6 273.8,740.6 280.2,743.7 286.5,747.9 292.7,752.6 299.0,757.1 300.0,758.1 305.3,760.4 311.7,762.1 324.2,760.9 336.7,758.4 343.1,757.6 355.6,753.4 368.1,749.6 374.4,747.9 380.8,747.3 386.9,747.6 393.3,749.6 399.6,750.9 405.8,753.4 418.3,758.8 424.6,760.1 431.0,760.9 437.2,762.3 443.5,763.4 449.7,763.8 456.0,763.1 462.4,761.4 474.9,757.1 481.2,753.4 487.4,751.8 493.7,748.4 500.1,745.1 506.2,741.7 512.6,739.7 518.9,737.6 525.1,737.1 531.4,737.6 537.6,737.2 544.0,738.4 550.3,739.6 556.5,738.7 562.8,737.6 569.1,736.7 575.3,734.2 581.7,733.7 588.0,733.4 594.2,732.9 600.5,732.9 606.7,733.4 613.0,733.4 619.4,731.7 625.7,730.6 631.9,729.7 638.2,729.6 644.6,730.4 650.7,731.4 657.1,732.2 663.4,732.6 669.6,732.2 675.9,731.7 682.1,731.4 688.4,730.6 694.8,729.2 701.0,726.7 707.3,724.6 713.6,722.6 719.8,719.7 726.1,717.0 732.5,715.0 738.7,714.5 745.0,713.9 751.2,714.7 757.5,716.2 763.9,718.1 770.0,719.6 776.4,721.4 782.7,723.7 788.9,726.7 795.2,729.2 801.6,731.4 807.7,733.7 814.1,736.7 820.3,738.4 826.6,738.1 832.9,738.1 839.1,739.6 845.5,742.6 851.8,745.1 858.0,747.9 864.3,750.1 870.6,753.9 876.8,757.3 883.2,760.4 889.5,764.6 895.7,765.9 902.0,765.6 908.3,766.4 914.5,770.9 920.9,777.3 927.0,780.6 933.4,782.6 939.7,784.8 945.9,786.5 952.2,786.8 958.6,785.6 964.7,785.1 971.1,782.3 977.4,779.6 983.6,778.5 989.9,778.0 996.3,777.3 1002.5,775.1 1008.8,770.4 1015.0,767.3 1021.3,765.6 1027.6,763.9 1033.8,762.6 1040.2,762.3 1046.5,762.3 1051.8,762.6 1059.0,765.9 1065.4,767.6 1071.5,770.6 1077.9,774.3 1084.0,778.5 1090.4,781.3 1096.7,783.5 1102.9,784.8 1109.2,785.5 1115.6,785.1 1121.8,784.6 1128.1,784.6 1134.4,784.8 1140.6,785.1 1147.0,785.6 1153.3,785.1 1159.5,782.3 1165.8,778.5 1172.0,774.3 1178.3,770.6 1184.7,766.4 1190.8,761.4 1197.2,757.6 1203.5,753.4 1209.8,750.4 1216.0,747.3 1222.3,741.2 1228.1,733.4" fill="none" stroke="#fbe64d" stroke-width="1.05" stroke-linejoin="round"/>
<polyline points="9.8,728.4 16.0,734.2 22.3,729.2 28.6,741.4 34.9,738.4 41.2,751.3 47.4,744.7 53.7,740.6 60.0,748.8 66.3,750.4 72.6,758.1 78.8,756.8 85.1,755.4 91.4,730.1 97.7,766.4 104.0,749.3 110.2,738.7 116.5,748.9 122.8,725.9 129.1,726.4 135.4,728.4 141.6,725.6 147.9,730.9 154.2,732.6 160.5,742.6 166.8,745.6 173.0,736.4 179.3,728.1 185.6,726.4 191.9,729.2 198.2,723.9 204.4,710.0 210.7,708.4 217.0,713.9 223.3,737.6 229.6,750.9 235.8,750.6 242.1,760.9 248.4,756.8 254.7,743.7 261.0,756.4 267.2,754.3 273.5,770.9 279.8,779.3 286.1,780.5 292.4,776.8 298.6,766.8 304.9,758.4 311.2,758.1 317.5,744.7 323.8,743.1 330.1,738.1 336.3,741.4 342.6,740.1 348.9,724.2 355.2,726.4 361.5,742.6 367.7,750.1 374.0,755.9 380.3,766.8 386.6,768.9 392.9,791.0 399.1,771.3 405.4,777.6 411.7,781.0 418.0,781.8 424.3,755.9 430.5,752.6 436.8,744.2 443.1,744.7 449.4,748.4 455.7,743.1 461.9,731.2 468.2,737.1 474.5,741.4 480.8,735.6 487.1,755.6 493.3,734.6 499.6,730.6 505.9,726.4 512.2,729.2 518.5,720.1 524.7,734.7 531.0,752.6 537.3,744.2 543.6,760.1 549.9,748.1 556.1,728.1 562.4,722.6 568.7,725.9 575.0,717.5 581.3,731.7 587.5,724.7 593.8,722.1 600.1,728.4 606.4,728.4 612.7,737.6 618.9,733.4 625.2,732.2 631.5,742.6 637.8,738.1 644.1,737.2 650.4,739.2 656.6,737.2 662.9,727.2 669.2,724.7 675.5,718.9 681.8,714.5 688.0,718.1 694.3,708.9 700.6,700.5 706.9,700.4 713.2,706.7 719.4,702.0 725.7,697.5 732.0,707.9 738.3,738.4 744.6,725.6 750.8,741.2 757.1,741.2 763.4,744.2 769.7,734.6 776.0,744.2 782.2,739.2 788.5,742.1 794.8,739.7 801.1,736.4 807.4,736.4 813.6,741.7 819.9,735.9 826.2,730.9 832.5,724.7 838.8,755.9 845.0,782.6 851.3,783.5 857.6,775.5 863.9,777.1 870.2,794.0 876.4,784.6 882.7,781.8 889.0,786.5 895.3,760.4 901.6,743.9 907.8,745.4 914.1,785.1 920.4,819.8 926.7,810.5 933.0,810.5 939.2,812.2 945.5,802.6 951.8,783.5 958.1,777.1 964.4,779.8 970.7,741.2 976.9,743.9 983.2,742.2 989.5,738.1 995.8,736.2 1002.1,751.3 1008.3,761.8 1014.6,772.3 1020.9,782.6 1027.2,786.0 1033.5,786.3 1039.7,782.6 1046.0,778.5 1052.3,781.0 1058.6,783.5 1064.9,767.3 1071.1,786.3 1077.4,782.3 1083.7,790.1 1090.0,791.0 1096.3,793.5 1102.5,797.1 1108.8,790.1 1115.1,779.0 1121.4,782.6 1127.7,783.5 1133.9,783.0 1140.2,784.6 1146.5,792.6 1152.8,760.1 1159.1,741.7 1165.3,729.2 1171.6,732.6 1177.9,734.2 1184.2,737.6 1190.5,729.6 1196.7,735.6 1203.0,727.9 1209.3,740.4 1215.6,740.4 1221.9,683.7 1228.1,678.7" fill="none" stroke="#8e24aa" stroke-width="1.05" stroke-linejoin="round"/>
</g>
<path d="M1218.82 654.91A9.8 9.8 0 1 1 1221.41 664.37" fill="none" stroke="#9c27b0" stroke-width="1.3" stroke-linecap="round"/>
<path d="M1231.7 652.6L1224.8 657.9L1232.4 657.4L1225.2 662.5" fill="none" stroke="#9c27b0" stroke-width="1.45" stroke-linejoin="bevel"/>
<path d="M1218.1 656.0Q1219.1999999999998 659.9 1223.1 661.0Q1219.1999999999998 662.1 1218.1 666.0Q1217.0 662.1 1213.1 661.0Q1217.0 659.9 1218.1 656.0Z" fill="#7c4dff"/>
<rect x="1764" y="27" width="61" height="829" fill="#fff"/>
<path d="M1763.5 27V856" stroke="#4a4a4a" stroke-width="1" shape-rendering="crispEdges"/>
<path d="M11 829.5H1825" stroke="#4a4a4a" stroke-width="1" shape-rendering="crispEdges"/>
<path d="M1763.5 670.5H1825" stroke="#e0e3eb" stroke-width="1" shape-rendering="crispEdges"/>
<text x="1814.4" y="105.1" text-anchor="end" font-family="Liberation Sans, Arial, sans-serif" font-size="11" fill="#3a3a3a">2,020.00</text>
<text x="1814.4" y="152.1" text-anchor="end" font-family="Liberation Sans, Arial, sans-serif" font-size="11" fill="#3a3a3a">2,000.00</text>
<text x="1814.4" y="199.1" text-anchor="end" font-family="Liberation Sans, Arial, sans-serif" font-size="11" fill="#3a3a3a">1,980.00</text>
<text x="1814.4" y="246.1" text-anchor="end" font-family="Liberation Sans, Arial, sans-serif" font-size="11" fill="#3a3a3a">1,960.00</text>
<text x="1814.4" y="293.1" text-anchor="end" font-family="Liberation Sans, Arial, sans-serif" font-size="11" fill="#3a3a3a">1,940.00</text>
<text x="1814.4" y="340.1" text-anchor="end" font-family="Liberation Sans, Arial, sans-serif" font-size="11" fill="#3a3a3a">1,920.00</text>
<text x="1814.4" y="387.1" text-anchor="end" font-family="Liberation Sans, Arial, sans-serif" font-size="11" fill="#3a3a3a">1,900.00</text>
<text x="1814.4" y="435.1" text-anchor="end" font-family="Liberation Sans, Arial, sans-serif" font-size="11" fill="#3a3a3a">1,880.00</text>
<text x="1814.4" y="482.1" text-anchor="end" font-family="Liberation Sans, Arial, sans-serif" font-size="11" fill="#3a3a3a">1,860.00</text>
<text x="1814.4" y="529.1" text-anchor="end" font-family="Liberation Sans, Arial, sans-serif" font-size="11" fill="#3a3a3a">1,840.00</text>
<text x="1814.4" y="576.1" text-anchor="end" font-family="Liberation Sans, Arial, sans-serif" font-size="11" fill="#3a3a3a">1,820.00</text>
<text x="1814.4" y="623.1" text-anchor="end" font-family="Liberation Sans, Arial, sans-serif" font-size="11" fill="#3a3a3a">1,800.00</text>
<text x="1814.4" y="670.1" text-anchor="end" font-family="Liberation Sans, Arial, sans-serif" font-size="11" fill="#3a3a3a">1,780.00</text>
<text x="1772" y="719.2" font-family="Liberation Sans, Arial, sans-serif" font-size="11" fill="#3a3a3a">60.00</text>
<text x="1772" y="769.2" font-family="Liberation Sans, Arial, sans-serif" font-size="11" fill="#3a3a3a">40.00</text>
<text x="1772" y="818.2" font-family="Liberation Sans, Arial, sans-serif" font-size="11" fill="#3a3a3a">20.00</text>
<path d="M1764 51H1817a2 2 0 0 1 2 2V66a2 2 0 0 1 -2 2H1764Z" fill="#ff0000"/>
<text x="1772.3" y="62.9" font-family="Liberation Sans, Arial, sans-serif" font-size="11" font-weight="bold" fill="#fff" textLength="42" lengthAdjust="spacingAndGlyphs">2,038.61</text>
<path d="M1764 117H1817a2 2 0 0 1 2 2V132a2 2 0 0 1 -2 2H1764Z" fill="#ff0000"/>
<text x="1772.3" y="128.9" font-family="Liberation Sans, Arial, sans-serif" font-size="11" font-weight="bold" fill="#fff" textLength="42" lengthAdjust="spacingAndGlyphs">2,010.44</text>
<path d="M1764 171H1817a2 2 0 0 1 2 2V186a2 2 0 0 1 -2 2H1764Z" fill="#ff0000"/>
<text x="1772.3" y="182.9" font-family="Liberation Sans, Arial, sans-serif" font-size="11" font-weight="bold" fill="#fff" textLength="42" lengthAdjust="spacingAndGlyphs">1,987.42</text>
<path d="M1764 267H1817a2 2 0 0 1 2 2V282a2 2 0 0 1 -2 2H1764Z" fill="#ff0000"/>
<text x="1772.3" y="278.9" font-family="Liberation Sans, Arial, sans-serif" font-size="11" font-weight="bold" fill="#fff" textLength="42" lengthAdjust="spacingAndGlyphs">1,946.69</text>
<path d="M1764 308H1819V334.6a2 2 0 0 1 -2 2H1764Z" fill="#0000ff"/>
<text x="1772.3" y="318.7" font-family="Liberation Sans, Arial, sans-serif" font-size="11" font-weight="bold" fill="#fff" textLength="42" lengthAdjust="spacingAndGlyphs">1,929.70</text>
<text x="1772.3" y="332" font-family="Liberation Sans, Arial, sans-serif" font-size="11" fill="#fff" fill-opacity="0.75" textLength="26.4" lengthAdjust="spacingAndGlyphs">39:58</text>
<path d="M1764 291H1817a2 2 0 0 1 2 2V306a2 2 0 0 1 -2 2H1764Z" fill="#ff0000"/>
<text x="1772.3" y="302.9" font-family="Liberation Sans, Arial, sans-serif" font-size="11" font-weight="bold" fill="#fff" textLength="42" lengthAdjust="spacingAndGlyphs">1,934.62</text>
<path d="M1764 448H1817a2 2 0 0 1 2 2V463a2 2 0 0 1 -2 2H1764Z" fill="#4caf50"/>
<text x="1772.3" y="459.9" font-family="Liberation Sans, Arial, sans-serif" font-size="11" font-weight="bold" fill="#fff" textLength="42" lengthAdjust="spacingAndGlyphs">1,869.63</text>
<path d="M1764 502H1817a2 2 0 0 1 2 2V517a2 2 0 0 1 -2 2H1764Z" fill="#4caf50"/>
<text x="1772.3" y="513.9" font-family="Liberation Sans, Arial, sans-serif" font-size="11" font-weight="bold" fill="#fff" textLength="42" lengthAdjust="spacingAndGlyphs">1,846.69</text>
<path d="M1764 629H1817a2 2 0 0 1 2 2V644a2 2 0 0 1 -2 2H1764Z" fill="#4caf50"/>
<text x="1772.3" y="640.9" font-family="Liberation Sans, Arial, sans-serif" font-size="11" font-weight="bold" fill="#fff" textLength="42" lengthAdjust="spacingAndGlyphs">1,792.74</text>
<rect x="1764" y="27" width="61" height="34" fill="#fff"/>
<rect x="1767.5" y="31.5" width="53" height="25.5" rx="3.5" fill="#fff" stroke="#ebebeb" stroke-width="1"/>
<text x="1776.4" y="48.6" font-family="Liberation Sans, Arial, sans-serif" font-size="11.5" fill="#222" textLength="20" lengthAdjust="spacingAndGlyphs">USD</text>
<clipPath id="tax"><rect x="11" y="830" width="1752" height="26"/></clipPath><g clip-path="url(#tax)">
<text x="10" y="846.3" text-anchor="middle" font-family="Liberation Sans, Arial, sans-serif" font-size="11" fill="#3a3a3a">17</text>
<text x="85.5" y="846.3" text-anchor="middle" font-family="Liberation Sans, Arial, sans-serif" font-size="11" fill="#3a3a3a">12:00</text>
<text x="160.5" y="846.3" text-anchor="middle" font-family="Liberation Sans, Arial, sans-serif" font-size="11" fill="#3a3a3a">18</text>
<text x="236.5" y="846.3" text-anchor="middle" font-family="Liberation Sans, Arial, sans-serif" font-size="11" fill="#3a3a3a">12:00</text>
<text x="311.5" y="846.3" text-anchor="middle" font-family="Liberation Sans, Arial, sans-serif" font-size="11" fill="#3a3a3a">19</text>
<text x="386.5" y="846.3" text-anchor="middle" font-family="Liberation Sans, Arial, sans-serif" font-size="11" fill="#3a3a3a">12:00</text>
<text x="462.5" y="846.3" text-anchor="middle" font-family="Liberation Sans, Arial, sans-serif" font-size="11" fill="#3a3a3a">20</text>
<text x="537.5" y="846.3" text-anchor="middle" font-family="Liberation Sans, Arial, sans-serif" font-size="11" fill="#3a3a3a">12:00</text>
<text x="612.5" y="846.3" text-anchor="middle" font-family="Liberation Sans, Arial, sans-serif" font-size="11" fill="#3a3a3a">21</text>
<text x="688.5" y="846.3" text-anchor="middle" font-family="Liberation Sans, Arial, sans-serif" font-size="11" fill="#3a3a3a">12:00</text>
<text x="763.5" y="846.3" text-anchor="middle" font-family="Liberation Sans, Arial, sans-serif" font-size="11" fill="#3a3a3a">22</text>
<text x="839.5" y="846.3" text-anchor="middle" font-family="Liberation Sans, Arial, sans-serif" font-size="11" fill="#3a3a3a">12:00</text>
<text x="914.5" y="846.3" text-anchor="middle" font-family="Liberation Sans, Arial, sans-serif" font-size="11" fill="#3a3a3a">23</text>
<text x="989.5" y="846.3" text-anchor="middle" font-family="Liberation Sans, Arial, sans-serif" font-size="11" fill="#3a3a3a">12:00</text>
<text x="1065.5" y="846.3" text-anchor="middle" font-family="Liberation Sans, Arial, sans-serif" font-size="11" fill="#3a3a3a">24</text>
<text x="1140.5" y="846.3" text-anchor="middle" font-family="Liberation Sans, Arial, sans-serif" font-size="11" fill="#3a3a3a">12:00</text>
<text x="1215.5" y="846.3" text-anchor="middle" font-family="Liberation Sans, Arial, sans-serif" font-size="11" fill="#3a3a3a">25</text>
<text x="1291.5" y="846.3" text-anchor="middle" font-family="Liberation Sans, Arial, sans-serif" font-size="11" fill="#3a3a3a">12:00</text>
<text x="1366.5" y="846.3" text-anchor="middle" font-family="Liberation Sans, Arial, sans-serif" font-size="11" fill="#3a3a3a">26</text>
<text x="1441.5" y="846.3" text-anchor="middle" font-family="Liberation Sans, Arial, sans-serif" font-size="11" fill="#3a3a3a">12:00</text>
<text x="1517.5" y="846.3" text-anchor="middle" font-family="Liberation Sans, Arial, sans-serif" font-size="11" fill="#3a3a3a">27</text>
<text x="1592.5" y="846.3" text-anchor="middle" font-family="Liberation Sans, Arial, sans-serif" font-size="11" fill="#3a3a3a">12:00</text>
<text x="1668.5" y="846.3" text-anchor="middle" font-family="Liberation Sans, Arial, sans-serif" font-size="11" fill="#3a3a3a">28</text>
<text x="1743.5" y="846.3" text-anchor="middle" font-family="Liberation Sans, Arial, sans-serif" font-size="11" fill="#3a3a3a">12:00</text>
</g>
<text x="10" y="17.9" font-family="Liberation Sans, Arial, sans-serif" font-size="12" fill="#1e1e1e" textLength="369" lengthAdjust="spacingAndGlyphs">aayushjindal created with TradingView.com, Feb 25, 2026 02:20 UTC</text>
<text x="18" y="46" font-family="Liberation Sans, Arial, sans-serif" font-size="12" fill="#4a4a4a" textLength="196" lengthAdjust="spacingAndGlyphs">Ethereum / U.S. Dollar · 1h · Kraken</text>
<text x="222.2" y="46" font-family="Liberation Sans, Arial, sans-serif" font-size="12" fill="#4a4a4a">O</text>
<text x="231.4" y="46" font-family="Liberation Sans, Arial, sans-serif" font-size="12" fill="#2a6041" textLength="44.1" lengthAdjust="spacingAndGlyphs">1,918.35</text>
<text x="284.8" y="46" font-family="Liberation Sans, Arial, sans-serif" font-size="12" fill="#4a4a4a">H</text>
<text x="293.5" y="46" font-family="Liberation Sans, Arial, sans-serif" font-size="12" fill="#2a6041" textLength="43.8" lengthAdjust="spacingAndGlyphs">1,946.22</text>
<text x="346.2" y="46" font-family="Liberation Sans, Arial, sans-serif" font-size="12" fill="#4a4a4a">L</text>
<text x="353.0" y="46" font-family="Liberation Sans, Arial, sans-serif" font-size="12" fill="#2a6041" textLength="44.2" lengthAdjust="spacingAndGlyphs">1,918.35</text>
<text x="406" y="46" font-family="Liberation Sans, Arial, sans-serif" font-size="12" fill="#4a4a4a">C</text>
<text x="414.4" y="46" font-family="Liberation Sans, Arial, sans-serif" font-size="12" fill="#2a6041" textLength="44.2" lengthAdjust="spacingAndGlyphs">1,929.70</text>
<text x="466.8" y="46" font-family="Liberation Sans, Arial, sans-serif" font-size="12" fill="#2a6041" textLength="83.8" lengthAdjust="spacingAndGlyphs">+10.90 (+0.57%)</text>
<text x="18" y="63" font-family="Liberation Sans, Arial, sans-serif" font-size="12" fill="#4a4a4a" textLength="158" lengthAdjust="spacingAndGlyphs">EMA (100, close, 0, SMA, 100)</text>
<text x="185.5" y="63" font-family="Liberation Sans, Arial, sans-serif" font-size="12" fill="#00bcd4" textLength="45" lengthAdjust="spacingAndGlyphs">1,898.89</text>
<text x="18" y="690" font-family="Liberation Sans, Arial, sans-serif" font-size="12" fill="#4a4a4a" textLength="139.7" lengthAdjust="spacingAndGlyphs">RSI (14, close, SMA, 14, 2)</text>
<text x="166" y="690" font-family="Liberation Sans, Arial, sans-serif" font-size="12" fill="#8e24aa" textLength="28.7" lengthAdjust="spacingAndGlyphs">74.56</text>
<text x="202.7" y="690" font-family="Liberation Sans, Arial, sans-serif" font-size="12" fill="#fbe64d" textLength="29" lengthAdjust="spacingAndGlyphs">52.65</text>
<text x="240" y="690" font-family="Liberation Sans, Arial, sans-serif" font-size="12" fill="#4a4a4a">∅</text>
<text x="255" y="690" font-family="Liberation Sans, Arial, sans-serif" font-size="12" fill="#4a4a4a">∅</text>
<g fill="#15161a"><path d="M11.9 879.1H23.6V893.7H17.8V885H11.9Z"/><circle cx="29" cy="881.8" r="2.75"/><path d="M33.5 879.1H41.8L36.4 893.7H29Z"/></g>
<text x="49" y="893.7" font-family="Liberation Sans, Arial, sans-serif" font-size="20" font-weight="bold" fill="#15161a" textLength="121.2" lengthAdjust="spacingAndGlyphs">TradingView</text>
</svg>
</body></html>
